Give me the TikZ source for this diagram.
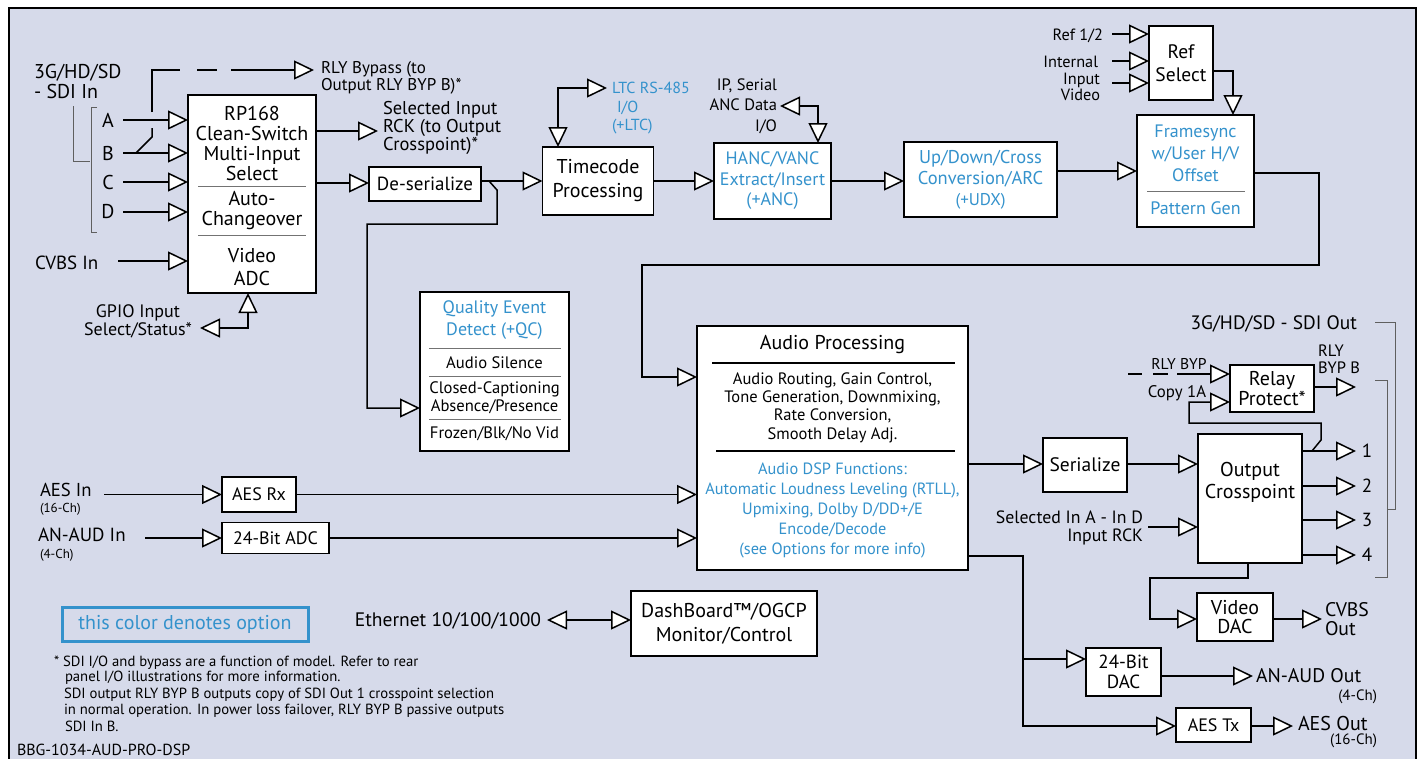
\documentclass[tikz,border=0pt]{standalone}
\usepackage{fontspec}
\setmainfont{PT Sans}
\usetikzlibrary{arrows.meta}
\definecolor{bg}{RGB}{214,218,234}
\definecolor{opt}{RGB}{52,146,204}
\definecolor{brk}{RGB}{95,95,95}
\newcommand\fsz[2]{\fontsize{#1}{#2}\selectfont}
\begin{document}
\begin{tikzpicture}[x=1pt,y=-1pt,
 box/.style={draw=black,line width=1.8pt,fill=white,inner sep=0pt,outer sep=0pt,align=center,font=\fsz{20}{22}},
 txt/.style={inner sep=0pt,outer sep=0pt,align=center,font=\fsz{20}{22}},
 ln/.style={line width=1.5pt},
 ar/.style={ln,-{Triangle[length=20pt,width=19pt,fill=white]}},
 bi/.style={ln,{Triangle[length=20pt,width=19pt,fill=white]}-{Triangle[length=20pt,width=19pt,fill=white]}},
 sepl/.style={line width=1pt,black!55},
 br/.style={line width=1pt,brk},
]
\useasboundingbox (0,0) rectangle (1423,758);
\clip (0,0) rectangle (1423,758);
% frame
\path[fill=bg] (9,8) rectangle (1416,775);
\draw[line width=2pt] (9,775) -- (9,8) -- (1416,8) -- (1416,775);

% helper levels
\coordinate (yA) at (0,120);
\coordinate (yB) at (0,153);
\coordinate (yC) at (0,182);
\coordinate (yD) at (0,212);
\coordinate (ySel) at (0,131);
\coordinate (yDes) at (0,183);
\coordinate (yRefO) at (0,71);
\coordinate (yFsO) at (0,173);
\coordinate (yQc) at (0,408);
\coordinate (yApIn) at (0,377);
\coordinate (ySer) at (0,464);
\coordinate (yDacTree) at (0,556);

% ---------------- SDI inputs
\node[txt,anchor=west,align=left,font=\fsz{20}{20}] (sdiin) at (34,81) {3G/HD/SD\\- SDI In};
\draw[br] (73,106) -- (73,161) -- (90,161);
\draw[br] (97,107) -- (91,107) -- (91,232) -- (97,232);
\node[txt] (lA) at (108,120) {A};
\node[txt] (lB) at (108,153) {B};
\node[txt] (lC) at (108,182) {C};
\node[txt] (lD) at (108,212) {D};

\node[box,minimum width=128pt,minimum height=198pt] (rp) at (252,194) {};
\node[txt,font=\fsz{20}{20}] (rpt1) at (252,143) {RP168\\Clean-Switch\\Multi-Input\\Select};
\draw[sepl] (198,186) -- (306,186);
\node[txt,font=\fsz{20}{20}] (rpt2) at (252,211) {Auto-\\Changeover};
\draw[sepl] (198,235) -- (306,235);
\node[txt,font=\fsz{20}{23}] (rpt3) at (252,267) {Video\\ADC};

\coordinate (aS) at (123,120);
\coordinate (bS) at (123,153);
\coordinate (cS) at (123,182);
\coordinate (dS) at (123,212);
\draw[ar] (aS) -- (rp.west |- yA);
\draw[ar] (bS) -- (rp.west |- yB);
\draw[ar] (cS) -- (rp.west |- yC);
\draw[ar] (dS) -- (rp.west |- yD);

% RLY bypass (dashed)
\coordinate (bJ) at (136,153);
\coordinate (hopLo) at (152,128);
\coordinate (hopHi) at (152,112);
\coordinate (rlyC) at (152,70);
\coordinate (rlyD1) at (180,70);
\coordinate (rlyD2) at (197,70);
\coordinate (rlyD3) at (217,70);
\coordinate (rlyD4) at (231,70);
\coordinate (rlyT) at (314,70);
\draw[ln] (bJ) -- (152,137) -- (hopLo);
\draw[ln] (hopHi) -- (rlyC) -- (rlyD1);
\draw[ln] (rlyD2) -- (rlyD3);
\draw[ar] (rlyD4) -- (rlyT);
\node[txt,anchor=west,align=left,font=\fsz{17}{16.5}] (rlytxt) at (321,78) {RLY Bypass (to\\Output RLY BYP B)*};

% CVBS in
\node[txt,anchor=west,font=\fsz{19}{20}] (cvbs) at (35,263) {CVBS In};
\coordinate (cvbsS) at (118,261);
\draw[ar] (cvbsS) -- (rp.west |- cvbsS);

% GPIO
\node[txt,font=\fsz{18}{18}] (gpio) at (138,321) {GPIO Input\\Select/Status*};
\coordinate (gpioT) at (200,328);
\draw[bi] (gpioT) -| ([xshift=-4pt]rp.south);

% Selected input RCK
\coordinate (selT) at (378,131);
\draw[ar] (rp.east |- ySel) -- (selT);
\node[txt,anchor=west,align=left,font=\fsz{18.5}{16.5}] (seltxt) at (383,128) {Selected Input\\RCK (to Output\\Crosspoint)*};

% De-serialize
\node[box,minimum width=112pt,minimum height=34pt,font=\fsz{19}{20}] (des) at (425,184) {De-serialize};
\draw[ar] (rp.east |- yDes) -- (des.west |- yDes);

% Timecode
\node[box,minimum width=111pt,minimum height=68pt,font=\fsz{20}{24}] (tc) at (598,181) {Timecode\\Processing};
\draw[ar] (des.east |- tc) -- (tc.west);
\coordinate (desJ) at (489,181);
\coordinate (qcIn) at (367,408);

% LTC
\coordinate (ltcT) at (607,88);
\draw[bi] (ltcT) -| ([xshift=-40pt]tc.north);
\node[txt,anchor=west,text=opt,font=\fsz{16}{19}] (ltc1) at (612,88) {LTC RS-485};
\node[txt,anchor=west,text=opt,font=\fsz{16}{19}] (ltc2) at (617,108) {I/O};
\node[txt,anchor=west,text=opt,font=\fsz{16}{19}] (ltc3) at (612,127) {(+LTC)};

% HANC
\node[box,minimum width=117pt,minimum height=76pt,text=opt,font=\fsz{18}{20.5}] (hanc) at (772.5,181) {HANC/VANC\\Extract/Insert\\(+ANC)};
\draw[ar] (tc.east) -- (hanc.west |- tc.east);
\node[txt,anchor=east,align=right,font=\fsz{16.5}{20.5}] (anctxt) at (777,106) {IP, Serial\\ANC Data\\I/O};
\coordinate (ancT) at (780,106);
\draw[bi] (ancT) -| ([xshift=45.5pt]hanc.north);

% Up/Down/Cross
\node[box,minimum width=153pt,minimum height=75pt,text=opt,font=\fsz{18.5}{21}] (ud) at (980.5,179.5) {Up/Down/Cross\\Conversion/ARC\\{\fsz{17}{18}(+UDX)}};
\draw[ar] (hanc.east) -- (ud.west |- hanc.east);

% Framesync
\node[box,minimum width=117pt,minimum height=112pt] (fs) at (1195.5,171) {};
\node[txt,text=opt,font=\fsz{18}{22}] (fst1) at (1195.5,153) {Framesync\\w/User H/V\\Offset};
\draw[sepl] (1147,191) -- (1245,191);
\node[txt,text=opt,font=\fsz{18}{21}] (fst2) at (1195.5,208) {Pattern Gen};
\draw[ar] (ud.east |- fs.west) -- (fs.west);

% Ref select
\node[box,minimum width=64pt,minimum height=74pt,font=\fsz{19.5}{23}] (ref) at (1181,63) {Ref\\Select};
\coordinate (r1) at (1112,34);
\coordinate (r2) at (1112,61);
\coordinate (r3) at (1112,83);
\draw[ar] (r1) -- (ref.west |- r1);
\draw[ar] (r2) -- (ref.west |- r2);
\draw[ar] (r3) -- (ref.west |- r3);
\node[txt,anchor=east,font=\fsz{16.3}{16}] (r1t) at (1103,36) {Ref 1/2};
\node[txt,anchor=east,font=\fsz{16.3}{16}] (r2t) at (1098,62) {Internal};
\node[txt,anchor=east,align=right,font=\fsz{16.3}{16}] (r3t) at (1100,87) {Input\\Video};
\draw[ar] (ref.east |- yRefO) -| ([xshift=37.5pt]fs.north);

% Quality event
\node[box,minimum width=149pt,minimum height=159pt] (qc) at (494.5,371.5) {};
\node[txt,text=opt,font=\fsz{18}{22}] (qct1) at (494.5,320) {Quality Event\\Detect (+QC)};
\draw[sepl] (429,348) -- (561,348);
\node[txt,font=\fsz{16.6}{18}] (qct2) at (494.5,363) {Audio Silence};
\draw[sepl] (429,376) -- (561,376);
\node[txt,font=\fsz{16.6}{18}] (qct3) at (494.5,398) {Closed-Captioning\\Absence/Presence};
\draw[sepl] (429,419) -- (561,419);
\node[txt,font=\fsz{16.6}{18}] (qct4) at (494.5,434) {Frozen/Blk/No Vid};
\draw[ar] (desJ) -- (497,190) -- (497,224) -| (qcIn) -- (qc.west |- yQc);

% Audio processing
\node[box,minimum width=271pt,minimum height=244pt] (ap) at (832.5,448) {};
\node[txt,font=\fsz{20}{21}] (apt1) at (832.5,345) {Audio Processing};
\draw[line width=1.1pt] (712,363) -- (955,363);
\node[txt,font=\fsz{16.5}{18.3}] (apt2) at (832.5,407.5) {Audio Routing, Gain Control,\\Tone Generation, Downmixing,\\Rate Conversion,\\Smooth Delay Adj.};
\draw[line width=1.1pt] (716,451) -- (955,451);
\node[txt,text=opt,font=\fsz{16.3}{20}] (apt3) at (832.5,510) {Audio DSP Functions:\\Automatic Loudness Leveling (RTLL),\\Upmixing, Dolby D/DD+/E\\Encode/Decode\\(see Options for more info)};

% loop to audio
\coordinate (loopA) at (1319,173);
\coordinate (loopB) at (1319,265);
\coordinate (loopC) at (642,265);
\draw[ar] (fs.east |- yFsO) -- (loopA) -- (loopB) -- (loopC) -- (loopC |- yApIn) -- (ap.west |- yApIn);

% AES / analog audio inputs
\node[txt,anchor=west,font=\fsz{18.7}{20}] (aesin) at (40,490) {AES In};
\node[txt,anchor=west,font=\fsz{13}{14}] (aesinch) at (40,509) {(16-Ch)};
\node[txt,anchor=west,font=\fsz{19}{20}] (anin) at (38,535) {AN-AUD In};
\node[txt,anchor=west,font=\fsz{13}{14}] (aninch) at (40,555) {(4-Ch)};
\node[box,minimum width=74pt,minimum height=35pt,font=\fsz{18}{20}] (aesrx) at (259,494.5) {AES Rx};
\node[box,minimum width=107pt,minimum height=31pt,font=\fsz{18}{20}] (adc) at (275.5,538) {24-Bit ADC};
\coordinate (aesS) at (104,494.5);
\coordinate (anS) at (145,538);
\draw[ar] (aesS) -- (aesrx.west);
\draw[ar] (anS) -- (adc.west);
\draw[ar] (aesrx.east) -- (ap.west |- aesrx.east);
\draw[ar] (adc.east) -- (ap.west |- adc.east);

% legend
\node[draw=opt,line width=3pt,minimum width=246pt,minimum height=34pt,inner sep=0pt,text=opt,font=\fsz{20}{20}] (legend) at (185,624) {this color denotes option};

% Ethernet / DashBoard
\node[txt,anchor=east,font=\fsz{19.5}{20}] (eth) at (541,621) {Ethernet 10/100/1000};
\node[box,minimum width=186pt,minimum height=65pt,font=\fsz{20}{24}] (dash) at (724,623.5) {DashBoard™/OGCP\\Monitor/Control};
\coordinate (ethT) at (547,620);
\draw[bi] (ethT) -- (dash.west |- ethT);

% footnotes
\node[txt,anchor=west,font=\fsz{14.7}{15}] (fn1) at (54,663) {* SDI I/O and bypass are a function of model. Refer to rear};
\node[txt,anchor=west,font=\fsz{14.7}{15}] (fn2) at (65,678) {panel I/O illustrations for more information.};
\node[txt,anchor=west,font=\fsz{14.7}{15}] (fn3) at (64,695) {SDI output RLY BYP B outputs copy of SDI Out 1 crosspoint selection};
\node[txt,anchor=west,font=\fsz{14.7}{15}] (fn4) at (64,711) {in normal operation. In power loss failover, RLY BYP B passive outputs};
\node[txt,anchor=west,font=\fsz{14.7}{15}] (fn5) at (65,726) {SDI In B.};
\node[txt,anchor=west,font=\fsz{16}{16}] (bbg) at (17,750) {BBG-1034-AUD-PRO-DSP};

% Serialize / Output crosspoint
\node[box,minimum width=84pt,minimum height=54pt,font=\fsz{19.5}{20}] (ser) at (1085,465) {Serialize};
\draw[ar] (ap.east |- ySer) -- (ser.west |- ySer);
\node[box,minimum width=104pt,minimum height=129pt,font=\fsz{20}{22}] (ocp) at (1250,498.5) {Output\\Crosspoint\\[14pt]};
\draw[ar] (ser.east |- ySer) -- (ocp.west |- ySer);
\node[txt,anchor=east,align=right,font=\fsz{17.8}{18}] (selin) at (1143,528) {Selected In A - In D\\Input RCK};
\coordinate (selinS) at (1148,527);
\draw[ar] (selinS) -- (ocp.west |- selinS);

\coordinate (o1) at (1356,451);
\coordinate (o2) at (1356,486);
\coordinate (o3) at (1356,520);
\coordinate (o4) at (1356,555);
\draw[ar] (ocp.east |- o1) -- (o1);
\draw[ar] (ocp.east |- o2) -- (o2);
\draw[ar] (ocp.east |- o3) -- (o3);
\draw[ar] (ocp.east |- o4) -- (o4);
\node[txt,font=\fsz{19}{20}] (n1) at (1367,451) {1};
\node[txt,font=\fsz{19}{20}] (n2) at (1367,486) {2};
\node[txt,font=\fsz{19}{20}] (n3) at (1367,520) {3};
\node[txt,font=\fsz{19}{20}] (n4) at (1367,555) {4};

% SDI out label and brackets
\node[txt,anchor=east,font=\fsz{19.4}{18}] (sdiout) at (1357,324) {3G/HD/SD - SDI Out};
\draw[br] (1375,322) -- (1395,322) -- (1395,509) -- (1387,509);
\draw[br] (1375,380) -- (1387,380) -- (1387,577) -- (1375,577);

% Relay protect
\node[box,minimum width=84pt,minimum height=47pt,font=\fsz{20}{20}] (rel) at (1272,388.5) {Relay\\Protect*};
\coordinate (rbS) at (1177,374);
\draw[ln] (1128,374) -- (1142,374);
\draw[ln] (1153,374) -- (1168,374);
\draw[ar] (rbS) -- (rel.west |- rbS);
\node[txt,font=\fsz{15.6}{16}] (rbt) at (1179,364) {RLY BYP};
\coordinate (cpJ) at (1312,451);
\coordinate (cpIn) at (1189,402);
\draw[ar] (cpJ) -- (1321,440) -- (1321,423) -- (1189,423) -- (cpIn) -- (rel.west |- cpIn);
\node[txt,font=\fsz{16.8}{16}] (cpt) at (1177,393) {Copy 1A};
\coordinate (rbbT) at (1356,387);
\draw[ar] (rel.east |- rbbT) -- (rbbT);
\node[txt,anchor=west,align=left,font=\fsz{16.5}{17}] (rbbt) at (1318,359) {RLY\\BYP B};

% Video DAC
\node[box,minimum width=76pt,minimum height=48pt,font=\fsz{20}{19}] (vdac) at (1235,617) {Video\\DAC};
\coordinate (vdA) at (1248,578);
\coordinate (vdB) at (1150,578);
\coordinate (vdC) at (1150,619);
\draw[ar] (vdA |- ocp.south) -- (vdA) -- (vdB) -- (vdC) -- (vdac.west |- vdC);
\coordinate (cvbsT) at (1322,619);
\draw[ar] (vdac.east |- cvbsT) -- (cvbsT);
\node[txt,anchor=west,align=left,font=\fsz{19.7}{19}] (cvbsout) at (1325,619) {CVBS\\Out};

% Audio outputs
\node[box,minimum width=75pt,minimum height=48pt,font=\fsz{19}{20}] (dac) at (1123.5,672) {24-Bit\\DAC};
\node[box,minimum width=75pt,minimum height=34pt,font=\fsz{18}{20}] (aestx) at (1213.5,725) {AES Tx};
\coordinate (trA) at (1023,556);
\coordinate (trB) at (1023,726);
\coordinate (trBr) at (1023,659);
\draw[ar] (ap.east |- yDacTree) -- (trA) -- (trB) -- (aestx.west |- trB);
\draw[ar] (trBr) -- (dac.west |- trBr);
\coordinate (anT) at (1253,676);
\draw[ar] (dac.east |- anT) -- (anT);
\node[txt,anchor=west,font=\fsz{19.7}{20}] (anout) at (1256,676) {AN-AUD Out};
\node[txt,anchor=east,font=\fsz{15}{14}] (anoutch) at (1377,697) {(4-Ch)};
\coordinate (aesT) at (1293,726);
\draw[ar] (aestx.east |- aesT) -- (aesT);
\node[txt,anchor=west,font=\fsz{20}{20}] (aesout) at (1298,723) {AES Out};
\node[txt,anchor=east,font=\fsz{15}{14}] (aesoutch) at (1377,741) {(16-Ch)};
\end{tikzpicture}
\end{document}
